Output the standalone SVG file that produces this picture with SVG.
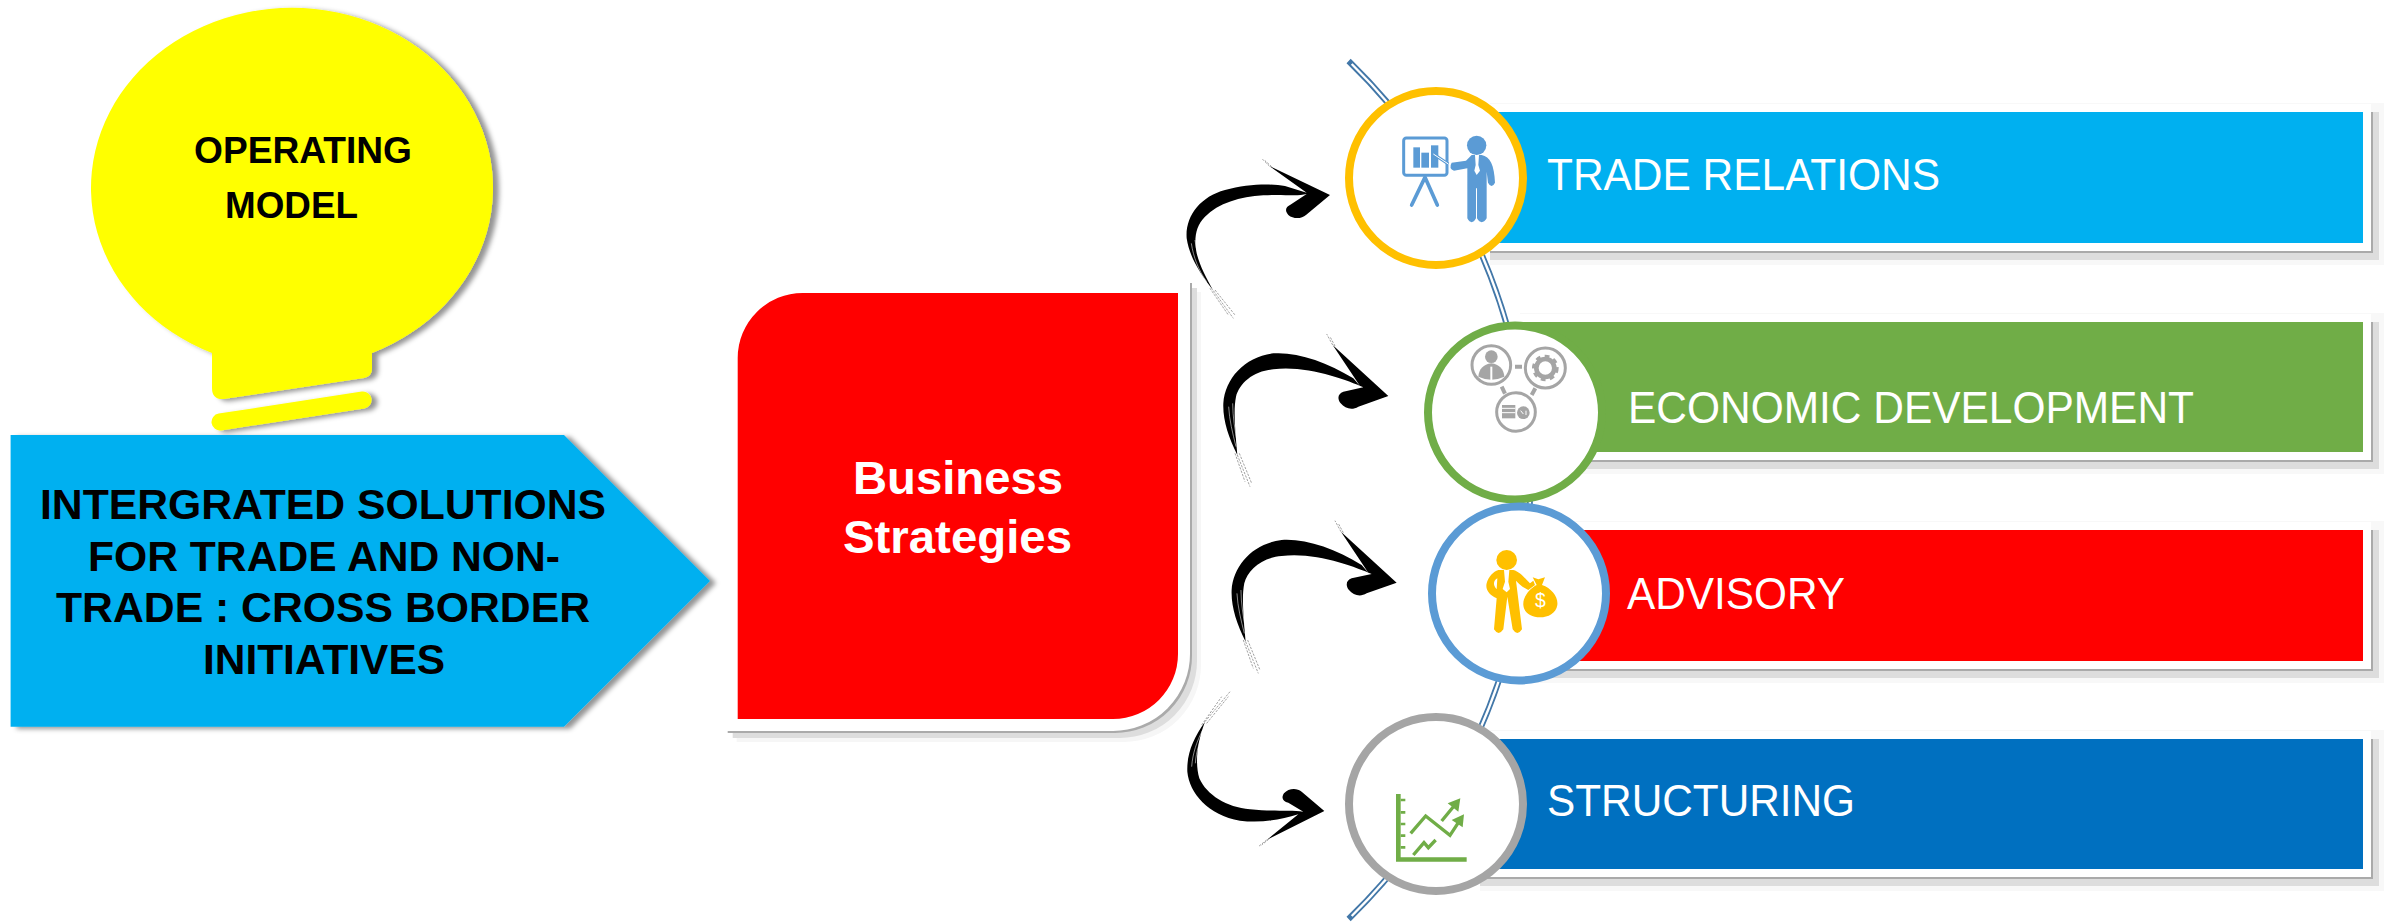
<svg xmlns="http://www.w3.org/2000/svg" width="2387" height="922" viewBox="0 0 2387 922">
<style>
.blk{font-family:"Liberation Sans",Arial,sans-serif;font-weight:700;fill:#000}
.big{font-size:42.4px}
.op{font-size:36.6px}
.biz{font-family:"Liberation Sans",Arial,sans-serif;font-weight:700;fill:#fff;font-size:47px}
.lab{font-family:"Liberation Sans",Arial,sans-serif;fill:#fff;font-size:44.5px}
.bar{stroke:#fff;stroke-width:16;paint-order:stroke}
.s1{fill:#f8f8f8}.s2{fill:#ddd}.s3{fill:#aaa}
.ring{fill:#fff;stroke-width:8}
.dry{fill:none;stroke:#000;stroke-width:2.5;opacity:.45;stroke-dasharray:7 4}
.gap{fill:none;stroke:#fff;stroke-width:1.6}
.ln{fill:none;stroke-linecap:butt}
</style>
<defs>
<filter id="sh2" x="-10%" y="-10%" width="120%" height="120%"><feDropShadow dx="6" dy="2" stdDeviation="2.5" flood-color="#000" flood-opacity=".42"/></filter>
<path id="biz" d="M737.7,358A65,65 0 0 1 803,293H1178V654A65,65 0 0 1 1113,719H737.7Z" stroke-width="24"/>
<g id="brush2">
<path d="M262,465C235,410 218,360 220,310C225,235 285,170 370,160C440,155 530,185 610,235L630,258L548,135L715,288L625,320C605,332 585,325 572,310C560,295 565,280 580,275L640,262C590,240 470,195 370,208C310,212 268,250 258,290C250,330 255,380 262,465Z"/>
<path class="gap" d="M236,320C238,360 248,400 258,440M248,310C248,350 255,390 262,430"/>
<path class="dry" d="M262,465L300,560M255,460L285,545M268,460L305,550M548,135L530,102M555,138L540,110"/>
</g>
</defs>
<g id="connectors">
<path class="ln" stroke="#4277A8" stroke-width="6" d="M1348.6,61A598,598 0 0 1 1348.6,919"/>
<path class="ln" stroke="#fff" stroke-width="2.4" d="M1351.7,64A598,598 0 0 1 1351.7,916"/>
<g fill="#000">
<g id="arrow1" transform="translate(1150,40) scale(.33333)">
<path d="M190,752C150,700 118,650 110,595C105,530 150,470 225,450C290,432 360,430 405,438L470,458L358,378L540,465L468,525C455,537 430,538 415,525C403,512 408,500 420,495L470,462C440,470 400,462 340,466C270,470 205,490 165,530C135,560 132,600 140,640C150,680 170,715 190,752Z"/>
<path class="gap" d="M124,610C130,650 145,690 170,725M135,600C140,640 155,680 180,720"/>
<path class="dry" d="M190,752L250,835M180,745L235,825M195,750L255,825M358,378L335,355M365,380L345,362"/>
</g>
<use id="arrow2" href="#brush2" transform="translate(1150,300) scale(.33333)"/>
<use id="arrow3" href="#brush2" transform="translate(1158.3,486.7) scale(.33333)"/>
<g id="arrow4" transform="translate(1150,680) scale(.33333)">
<path d="M165,125C130,175 110,220 112,275C118,340 175,405 270,422C330,430 390,420 445,403L350,480L523,393L455,335C440,323 415,325 402,340C392,355 400,365 415,368L460,395C420,390 370,395 300,388C230,382 170,345 148,295C135,250 140,190 165,125Z"/>
<path class="gap" d="M125,260C128,220 140,185 158,150M136,250C138,215 150,180 165,145"/>
<path class="dry" d="M165,125L240,35M155,135L215,50M170,130L235,50M350,480L325,500M356,478L335,495"/>
</g>
</g>
</g>
<g id="node-bulb">
<g filter="url(#sh2)" fill="#FFFF00">
<path d="M212,353A201,180 0 1 1 372,353L372,369Q372,376 364,378L224,399Q212,400 212,388Z"/>
<path d="M220,422L363,400" stroke="#FFFF00" stroke-width="17" stroke-linecap="round" fill="none"/>
</g>
<text class="blk op" x="194" y="162.5" textLength="218" lengthAdjust="spacingAndGlyphs">OPERATING</text>
<text class="blk op" x="225" y="218.3" textLength="133" lengthAdjust="spacingAndGlyphs">MODEL</text>
</g>
<g id="node-solutions">
<path filter="url(#sh2)" fill="#00B0F0" d="M10.6,435H564L710,581L564,726.7H10.6Z"/>
<text class="blk big" x="40" y="519.3" textLength="566" lengthAdjust="spacingAndGlyphs">INTERGRATED SOLUTIONS</text>
<text class="blk big" x="88" y="570.7" textLength="472" lengthAdjust="spacingAndGlyphs">FOR TRADE AND NON-</text>
<text class="blk big" x="56" y="622.3" textLength="534" lengthAdjust="spacingAndGlyphs">TRADE : CROSS BORDER</text>
<text class="blk big" x="203" y="674" textLength="242" lengthAdjust="spacingAndGlyphs">INITIATIVES</text>
</g>
<g id="node-strategies">
<use href="#biz" transform="translate(11,11)" fill="#f6f6f6" stroke="#f6f6f6"/>
<use href="#biz" transform="translate(7,7)" fill="#ddd" stroke="#ddd"/>
<use href="#biz" transform="translate(2,2)" fill="#aaa" stroke="#aaa"/>
<use href="#biz" fill="#FF0000" stroke="#fff" paint-order="stroke"/>
<text class="biz" x="853" y="494" textLength="210" lengthAdjust="spacingAndGlyphs">Business</text>
<text class="biz" x="843" y="552.7" textLength="229" lengthAdjust="spacingAndGlyphs">Strategies</text>
</g>
<g id="node-trade">
<rect class="s1" x="1490" y="103" width="894" height="162"/><rect class="s2" x="1490" y="112" width="889" height="148"/><rect class="s3" x="1490" y="112" width="883" height="141"/>
<rect class="bar" x="1490" y="112" width="873" height="131" fill="#00B0F0"/>
<circle class="ring" cx="1436" cy="178" r="87" stroke="#FFC000"/>
<g transform="translate(1150,40) scale(.33333)" fill="#5B9BD5">
<rect x="761" y="294" width="130" height="112" rx="8" fill="none" stroke="#5B9BD5" stroke-width="9"/>
<rect x="790" y="322" width="20" height="61"/><rect x="814" y="338" width="23" height="45"/><rect x="843" y="316" width="22" height="67"/>
<path d="M825,412L785,495M825,412L862,495" fill="none" stroke="#5B9BD5" stroke-width="11" stroke-linecap="round"/>
<path d="M850,342L895,372" stroke="#5B9BD5" stroke-width="9"/><path d="M850,342L895,372" stroke="#fff" stroke-width="3"/>
<circle cx="980" cy="316" r="29"/>
<path d="M905,368L948,362L965,345H995C1020,350 1033,375 1035,428Q1025,448 1014,428L1010,395V535Q995,558 981,535V445H978V535Q965,558 952,535V385L912,392Q895,385 905,368Z"/>
<path d="M975,345H987L985,375L990,392L980,405L973,392L977,375Z" fill="#fff"/>
</g>
<text class="lab" x="1547" y="190" textLength="393" lengthAdjust="spacingAndGlyphs">TRADE RELATIONS</text>
</g>
<g id="node-economic">
<rect class="s1" x="1520" y="313" width="864" height="161"/><rect class="s2" x="1520" y="322" width="859" height="147"/><rect class="s3" x="1520" y="322" width="853" height="140"/>
<rect class="bar" x="1520" y="322" width="843" height="130" fill="#70AD47"/>
<circle class="ring" cx="1515" cy="412.5" r="87" stroke="#70AD47"/>
<g transform="translate(1150,300) scale(.33333)" fill="#A5A5A5">
<g fill="none" stroke="#A5A5A5" stroke-width="9">
<circle cx="1024" cy="195" r="58"/><circle cx="1186" cy="204" r="60"/><circle cx="1098" cy="336" r="58"/>
</g>
<path d="M1095,200H1116M1055,260L1065,281M1156,265L1145,285" fill="none" stroke="#A5A5A5" stroke-width="12"/>
<circle cx="1024" cy="170" r="19"/>
<path d="M985,230Q988,195 1024,190Q1060,195 1063,230Q1024,248 985,230Z"/>
<path d="M1021,200H1027L1027,240H1021Z" fill="#fff"/>
<circle cx="1186" cy="204" r="27" fill="none" stroke="#A5A5A5" stroke-width="14"/>
<circle cx="1186" cy="204" r="35" fill="none" stroke="#A5A5A5" stroke-width="10" stroke-dasharray="14 13"/>
<rect x="1056" y="315" width="40" height="40"/>
<path d="M1056,325H1096M1056,338H1096" stroke="#fff" stroke-width="3"/>
<circle cx="1120" cy="338" r="19"/>
<path d="M1112,332L1120,342M1128,332V345" stroke="#fff" stroke-width="3"/>
</g>
<text class="lab" x="1628" y="423" textLength="566" lengthAdjust="spacingAndGlyphs">ECONOMIC DEVELOPMENT</text>
</g>
<g id="node-advisory">
<rect class="s1" x="1530" y="521" width="854" height="162"/><rect class="s2" x="1530" y="530" width="849" height="148"/><rect class="s3" x="1530" y="530" width="843" height="141"/>
<rect class="bar" x="1530" y="530" width="833" height="131" fill="#FF0000"/>
<circle class="ring" cx="1519" cy="593.5" r="87" stroke="#5B9BD5"/>
<g transform="translate(1150,490) scale(.33333)" fill="#FFC000">
<ellipse cx="1070" cy="210" rx="31" ry="30"/>
<path d="M1045,240H1090C1110,245 1125,265 1140,280L1150,272L1155,285L1135,300C1115,290 1105,280 1098,272L1116,418Q1102,440 1088,418L1072,320L1060,418Q1046,440 1032,418L1040,325C1020,315 1005,300 1010,280C1015,260 1030,245 1045,240ZM1042,265C1030,272 1028,285 1040,298Z"/>
<path d="M1062,240H1078L1075,275L1080,297L1070,307L1058,297L1065,275Z" fill="#fff"/>
<path d="M1148,262L1165,268L1185,262L1176,285C1205,295 1225,320 1222,345C1218,370 1195,382 1170,382C1145,382 1122,370 1120,345C1118,320 1140,295 1160,285Z"/>
<text x="1171" y="350" font-family="Liberation Sans,Arial,sans-serif" font-size="58" fill="#fff" text-anchor="middle">$</text>
</g>
<text class="lab" x="1627" y="609.3" textLength="218" lengthAdjust="spacingAndGlyphs">ADVISORY</text>
</g>
<g id="node-structuring">
<rect class="s1" x="1480" y="730" width="904" height="161"/><rect class="s2" x="1480" y="739" width="899" height="147"/><rect class="s3" x="1480" y="739" width="893" height="140"/>
<rect class="bar" x="1480" y="739" width="883" height="130" fill="#0070C0"/>
<circle class="ring" cx="1436" cy="804" r="87" stroke="#A5A5A5"/>
<g transform="translate(1150,680) scale(.33333)" fill="#70AD47">
<path d="M738,342H752V532H950V545H738Z"/>
<path d="M752,356H766V364H752ZM752,393H766V401H752ZM752,428H766V436H752ZM752,463H766V471H752ZM752,498H766V506H752Z"/>
<path d="M782,460L827,408L900,466L925,428M875,423L912,378M790,525L822,488L835,503L857,480" fill="none" stroke="#70AD47" stroke-width="10"/>
<path d="M905,420L942,403L938,442ZM893,370L931,355L925,395Z"/>
</g>
<text class="lab" x="1547" y="816" textLength="308" lengthAdjust="spacingAndGlyphs">STRUCTURING</text>
</g>
</svg>
